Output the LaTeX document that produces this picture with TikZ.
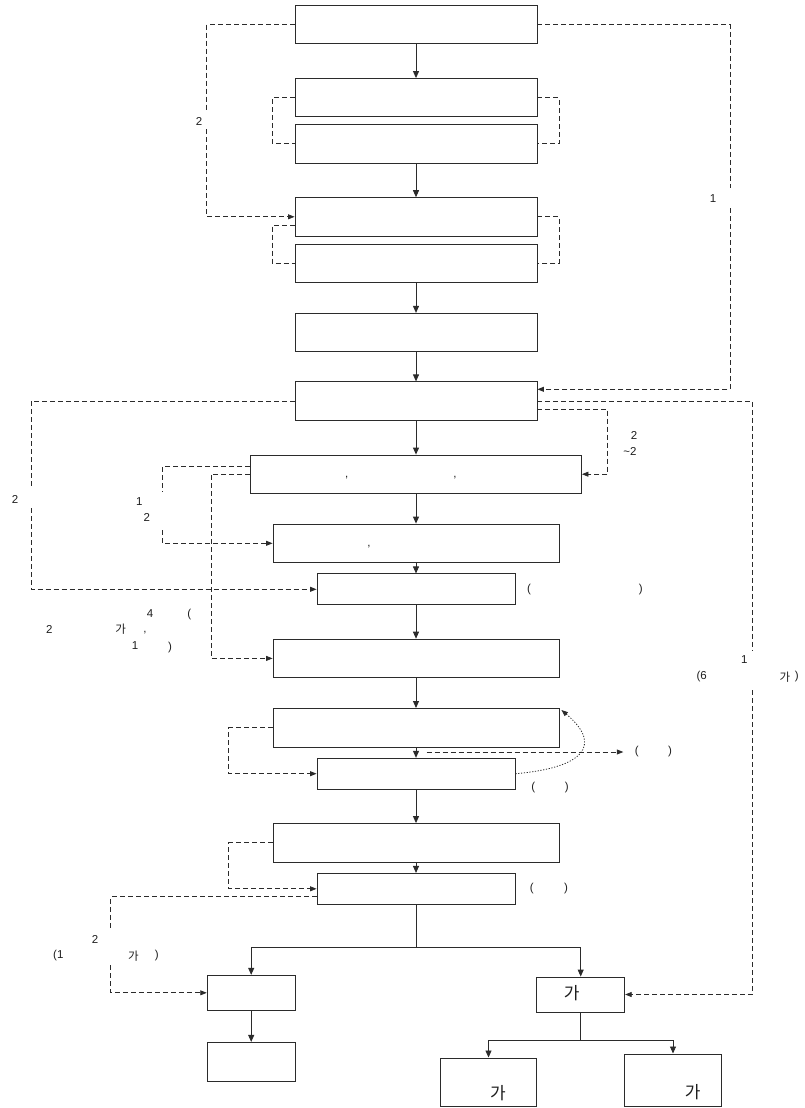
\documentclass[tikz,border=0pt]{standalone}
\usepackage{fontspec}
\setmainfont{Liberation Sans}
\newfontfamily\krfont{Noto Sans CJK KR}
\usepackage{xcolor}
\usepackage{tikz}
\usetikzlibrary{arrows.meta, positioning, calc}
\definecolor{line_gray}{HTML}{2B2B2B}
\definecolor{text_gray}{HTML}{1E1E1E}

\begin{document}
\begin{tikzpicture}[
        x=1pt, y=-1pt,
        box/.style={rectangle, draw=line_gray, line width=0.9pt, fill=white, inner sep=0pt},
        wbox/.style={box, minimum width=242pt, minimum height=38.3pt},
        mbox/.style={box, minimum width=286pt, minimum height=38.5pt},
        nbox/.style={box, minimum width=198pt, minimum height=30.8pt},
        sbox/.style={box, minimum width=88pt, minimum height=35pt},
        conn/.style={-{Triangle[length=7pt, width=6pt]}, line_gray, line width=0.9pt},
        dline/.style={line_gray, line width=0.8pt, dash pattern=on 5pt off 3pt},
        dconn/.style={dline, -{Triangle[length=6.5pt, width=5pt]}},
        dotconn/.style={line_gray, line width=0.8pt, dash pattern=on 1.2pt off 1.6pt, -{Triangle[length=6.5pt, width=5pt]}},
        lbl/.style={font=\fontsize{11.5}{13}\selectfont, text=text_gray, inner sep=0pt},
        kr/.style={font=\krfont\fontsize{11.5}{13}\selectfont, text=text_gray, inner sep=0pt},
        krbig/.style={font=\krfont\fontsize{17}{19}\selectfont, text=text_gray, inner sep=0pt},
    ]
        \useasboundingbox (0,0) rectangle (805,1108);

        % Main column
        \node[wbox] (b1) at (416,24.5) {};
        \node[wbox] (b2) at (416,97.7) {};
        \node[wbox] (b3) at (416,143.8) {};
        \node[wbox] (b4) at (416,216.8) {};
        \node[wbox] (b5) at (416,263.3) {};
        \node[wbox] (b6) at (416,332.5) {};
        \node[wbox] (b7) at (416,401) {};
        \node[box, minimum width=331pt, minimum height=38.3pt] (b8) at (416,474.2) {};
        \node[mbox] (b9) at (416,543.3) {};
        \node[nbox] (b10) at (416,589.3) {};
        \node[mbox] (b11) at (416,658.4) {};
        \node[mbox] (b12) at (416,727.7) {};
        \node[nbox] (b13) at (416,773.7) {};
        \node[mbox] (b14) at (416,842.8) {};
        \node[nbox] (b15) at (416,888.8) {};

        % Bottom branches
        \node[sbox] (p1) at (251.2,992.8) {};
        \node[sbox, minimum height=38.7pt] (p2) at (251.2,1061.7) {};
        \node[sbox] (r1) at (580.7,994.5) {};
        \node[box, minimum width=96.4pt, minimum height=48.5pt] (r2) at (488.5,1082.2) {};
        \node[box, minimum width=96.6pt, minimum height=52.5pt] (r3) at (673,1080.2) {};

        % Texts in boxes
        \node[lbl] (c1) at (346.7,478) {,};
        \node[lbl] (c2) at (455,478) {,};
        \node[lbl] (c3) at (369,547) {,};
        \node[krbig] (k1) at (571.7,993.3) {가};
        \node[krbig] (k2) at (498,1092.7) {가};
        \node[krbig] (k3) at (692.7,1092) {가};

        % Labels
        \node[lbl] (n1) at (199,121) {2};
        \node[lbl] (n2) at (713,199) {1};
        \node[lbl] (n3) at (634,435) {2};
        \node[lbl] (n4) at (630,451.7) {\textasciitilde2};
        \node[lbl] (n5) at (15,499.3) {2};
        \node[lbl] (n6) at (139.3,501.7) {1};
        \node[lbl] (n7) at (146.7,517.7) {2};
        \node[lbl] (n8) at (584.9,590) {(\hspace{108pt})};
        \node[lbl] (n9) at (150,614) {4};
        \node[lbl] (n10) at (189.3,615) {(};
        \node[lbl] (n11) at (49.3,629.3) {2};
        \node[kr] (n12) at (120.7,629.3) {가};
        \node[lbl] (n13) at (145,633) {,};
        \node[lbl] (n14) at (135,645.7) {1};
        \node[lbl] (n15) at (170,647.3) {)};
        \node[lbl] (n16) at (744.3,660) {1};
        \node[lbl] (n17) at (701.7,676.7) {(6};
        \node[kr] (n18) at (785,676.7) {가};
        \node[lbl] (n19) at (796.7,676.7) {)};
        \node[lbl] (n20) at (653.4,752) {(\hspace{29.6pt})};
        \node[lbl] (n21) at (550,787.7) {(\hspace{29.7pt})};
        \node[lbl] (n22) at (548.9,889) {(\hspace{30.6pt})};
        \node[lbl] (n23) at (95,939.3) {2};
        \node[lbl] (n24) at (58.3,956) {(1};
        \node[kr] (n25) at (133.3,956) {가};
        \node[lbl] (n26) at (156.7,956) {)};

        % Main flow
        \foreach \a/\b in {b1/b2, b3/b4, b5/b6, b6/b7, b7/b8, b8/b9, b9/b10, b10/b11, b11/b12, b12/b13, b13/b14, b14/b15}
            \draw[conn] (\a) -- (\b);
        \coordinate (t1) at (416,947);
        \coordinate (t2) at (580.7,1040);
        \draw[line_gray, line width=0.9pt] (b15) -- (t1);
        \draw[conn] (t1) -| (p1);
        \draw[conn] (t1) -| (r1);
        \draw[conn] (p1) -- (p2);
        \draw[line_gray, line width=0.9pt] (r1) -- (t2);
        \draw[conn] (t2) -| (r2);
        \draw[conn] (t2) -| (r3);

        % Feedback and side paths
        \coordinate (g1a) at (206.7,111);
        \coordinate (g1b) at (206.7,129.3);
        \draw[dline] (b1.west) -| (g1a);
        \draw[dconn] (g1b) |- (b4.west);
        \coordinate (g2a) at (730,188);
        \coordinate (g2b) at (730,208);
        \draw[dline] (b1.east) -| (g2a);
        \draw[dconn] (g2b) |- ([yshift=11.7pt]b7.east);
        \draw[dline] (b2.west) -- ++(-22.3,0) |- (b3.west);
        \draw[dline] (b2.east) -- ++(21.7,0) |- (b3.east);
        \draw[dline] ([yshift=-8.2pt]b4.west) -- ++(-22.3,0) |- (b5.west);
        \draw[dline] (b4.east) -- ++(21.7,0) |- (b5.east);
        \coordinate (g3a) at (31,488);
        \coordinate (g3b) at (31,508);
        \draw[dline] (b7.west) -| (g3a);
        \draw[dconn] (g3b) |- (b10.west);
        \coordinate (g4a) at (752.7,650);
        \coordinate (g4b) at (752.7,690);
        \draw[dline] (b7.east) -| (g4a);
        \draw[dconn] (g4b) |- (r1.east);
        \draw[dconn] ([yshift=-8pt]b7.east) -- ++(70.3,0) |- (b8.east);
        \coordinate (g5a) at (162.7,491.7);
        \coordinate (g5b) at (162.7,530);
        \draw[dline] ([yshift=7.5pt]b8.west) -| (g5a);
        \draw[dconn] (g5b) |- (b9.west);
        \draw[dconn] (b8.west) -- ++(-38.8,0) |- (b11.west);
        \draw[dconn] (b12.west) -- ++(-43.7,0) |- (b13.west);
        \draw[dconn] (b14.west) -- ++(-43.7,0) |- (b15.west);
        \coordinate (g6a) at (110.7,930);
        \coordinate (g6b) at (110.7,965);
        \draw[dline] ([yshift=-8pt]b15.west) -| (g6a);
        \draw[dconn] (g6b) |- (p1.west);
        \coordinate (d1) at (426.7,752);
        \coordinate (d2) at (623.3,752);
        \draw[dconn] (d1) -- (d2);
        \draw[dotconn] (b13.east) .. controls (582,768) and (604,746) .. ([shift={(2pt,-2pt)}]b12.north east);
    \end{tikzpicture}
\end{document}
